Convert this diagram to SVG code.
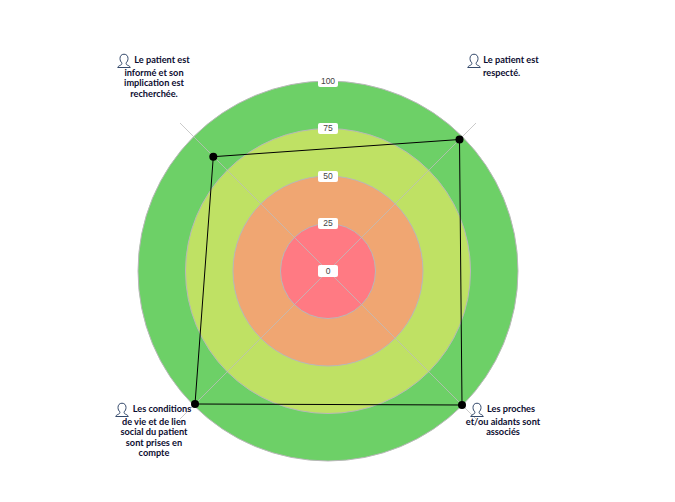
<svg xmlns="http://www.w3.org/2000/svg" width="675" height="502" viewBox="0 0 675 502">
<style>
.ring{stroke:#b8b8b8;stroke-width:1}
.axis{stroke:#bdbdbd;stroke-width:.8;fill:none}
.tick rect{fill:#fff}
.tick text{font:8.5px "Liberation Sans",Arial,sans-serif;fill:#444;text-anchor:middle}
.lab{font:bold 9.2px Lato,"Open Sans",sans-serif;fill:#0c0c30;text-anchor:middle}
.ico{fill:none;stroke:#34496b;stroke-width:1}
.dot{fill:#000}
</style>
<defs>
<g id="person"><path class="ico" d="M7 1.200c-2.600 0-4 1.900-4 4.300 0 1.900.8 3.300 1.800 4.300.3 1.200-.2 1.900-1.100 2.300-1.200.5-2.500 1-3 2.400h12.600c-.5-1.400-1.800-1.900-3-2.400-.9-.4-1.400-1.100-1.100-2.300 1-1 1.800-2.400 1.800-4.300 0-2.400-1.400-4.300-4-4.300z"/></g>
</defs>
<g id="rings">
<circle class="ring" cx="328" cy="271" r="190" fill="#6dd067"/>
<circle class="ring" cx="328" cy="271" r="142.500" fill="#bfe164"/>
<circle class="ring" cx="328" cy="271" r="95" fill="#f0a672"/>
<circle class="ring" cx="328" cy="271" r="47.500" fill="#ff7a83"/>
</g>
<g id="connectors">
<path class="axis" d="M180 123L476 419M476 123L180 419"/>
<path d="M213.300 156.700L459.500 139.500L462 405L195 404Z" fill="none" stroke="#000" stroke-width="1"/>
</g>
<g id="ticks" class="tick">
<g id="tick-100"><rect x="318" y="76" width="20" height="11" rx="2"/><text x="328" y="84">100</text></g>
<g id="tick-75"><rect x="318" y="123" width="20" height="11" rx="2"/><text x="328" y="131">75</text></g>
<g id="tick-50"><rect x="318" y="171" width="20" height="11" rx="2"/><text x="328" y="179">50</text></g>
<g id="tick-25"><rect x="318" y="218" width="20" height="11" rx="2"/><text x="328" y="226">25</text></g>
<g id="tick-0"><rect x="318" y="265" width="20" height="12" rx="2"/><text x="328" y="273.500">0</text></g>
</g>
<g id="node-nw">
<circle class="dot" cx="213.300" cy="156.700" r="4"/>
<use href="#person" x="117" y="53"/>
<text class="lab" x="162" y="63">Le patient est</text>
<text class="lab" x="154" y="76">informé et son</text>
<text class="lab" x="154" y="86">implication est</text>
<text class="lab" x="154" y="97">recherchée.</text>
</g>
<g id="node-ne">
<circle class="dot" cx="459.500" cy="139.500" r="4"/>
<use href="#person" x="467" y="53"/>
<text class="lab" x="511" y="63">Le patient est</text>
<text class="lab" x="483" y="76" style="text-anchor:start">respecté.</text>
</g>
<g id="node-se">
<circle class="dot" cx="462" cy="405" r="4"/>
<use href="#person" x="470" y="402"/>
<text class="lab" x="511" y="412">Les proches</text>
<text class="lab" x="503" y="425">et/ou aidants sont</text>
<text class="lab" x="503" y="435">associés</text>
</g>
<g id="node-sw">
<circle class="dot" cx="195" cy="404" r="4"/>
<use href="#person" x="115" y="402"/>
<text class="lab" x="162" y="412">Les conditions</text>
<text class="lab" x="154" y="425">de vie et de lien</text>
<text class="lab" x="154" y="435">social du patient</text>
<text class="lab" x="154" y="446">sont prises en</text>
<text class="lab" x="154" y="456">compte</text>
</g>
</svg>
